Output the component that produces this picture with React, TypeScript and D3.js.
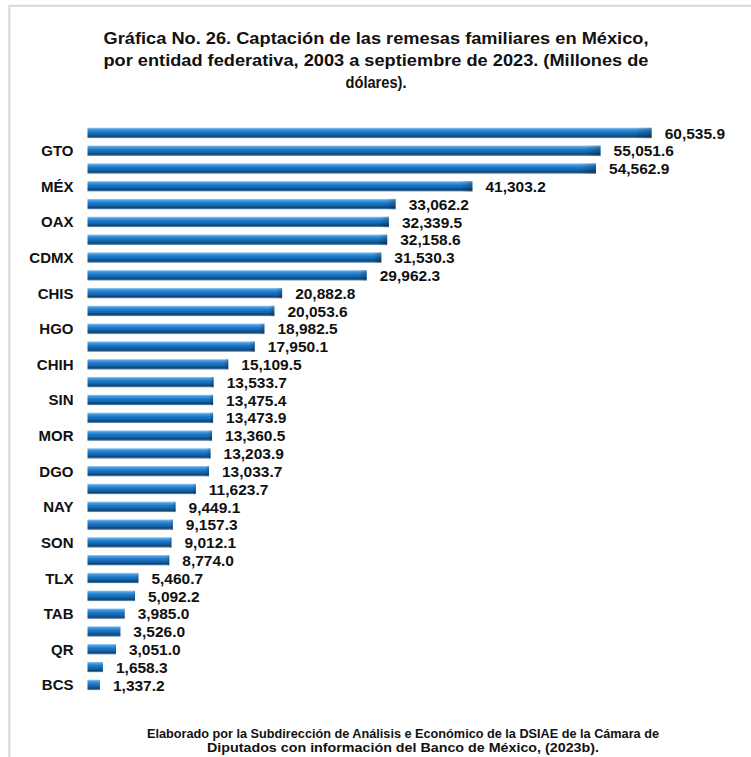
import React from "react";
import * as d3 from "d3";

const categories = ["", "GTO", "", "MÉX", "", "OAX", "", "CDMX", "", "CHIS", "", "HGO", "", "CHIH", "", "SIN", "", "MOR", "", "DGO", "", "NAY", "", "SON", "", "TLX", "", "TAB", "", "QR", "", "BCS"];
const values = [60535.9, 55051.6, 54562.9, 41303.2, 33062.2, 32339.5, 32158.6, 31530.3, 29962.3, 20882.8, 20053.6, 18982.5, 17950.1, 15109.5, 13533.7, 13475.4, 13473.9, 13360.5, 13203.9, 13033.7, 11623.7, 9449.1, 9157.3, 9012.1, 8774.0, 5460.7, 5092.2, 3985.0, 3526.0, 3051.0, 1658.3, 1337.2];
const titleLines = [
  "Gráfica No. 26. Captación de las remesas familiares en México,",
  "por entidad federativa, 2003 a septiembre de 2023. (Millones de",
  "dólares).",
];
const footerLines = [
  "Elaborado por la Subdirección de Análisis e Económico de la DSIAE de la Cámara de",
  "Diputados con información del Banco de México, (2023b).",
];

const W = 751;
const H = 757;
const narrow = "'Liberation Sans Narrow', 'Arial Narrow', 'Liberation Sans', Arial, sans-serif";
const sans = "'Liberation Sans', Arial, sans-serif";

export default function App() {
  const idx = values.map((_, i) => i);
  const y = d3.scaleBand<number>().domain(idx).range([124.1, 693.9]).paddingInner(0.4).paddingOuter(0.2);
  const x = d3.scaleLinear().domain([0, 60535.9]).range([87.5, 651.7]);
  const fmt = d3.format(",.1f");
  const titleW = [545, 545, 61];
  const footW = [512, 392];
  return (
    <svg width={W} height={H} style={{ position: "absolute", left: 0, top: 0, background: "#fff" }}>
      <defs>
        <linearGradient id="barg" x1="0" y1="0" x2="0" y2="1">
          <stop offset="0%" stopColor="#a4d0f4" />
          <stop offset="14%" stopColor="#4a9de2" />
          <stop offset="38%" stopColor="#1a7acb" />
          <stop offset="62%" stopColor="#1565a8" />
          <stop offset="82%" stopColor="#0f4474" />
          <stop offset="93%" stopColor="#557fa9" />
          <stop offset="100%" stopColor="#d3e0ee" />
        </linearGradient>
        <linearGradient id="barh" x1="0" y1="0" x2="1" y2="0">
          <stop offset="0%" stopColor="#000" stopOpacity="0" />
          <stop offset="97%" stopColor="#000" stopOpacity="0" />
          <stop offset="100%" stopColor="#000" stopOpacity="0.25" />
        </linearGradient>
      </defs>
      <rect x={0} y={0} width={W} height={H} fill="#fff" />
      <path d={`M9.3,${H} V5.8 H${W}`} fill="none" stroke="#d9d9d9" strokeWidth={2} />
      {titleLines.map((t, i) => (
        <text
          key={i}
          x={376}
          y={43.5 + i * 22}
          textAnchor="middle"
          fontFamily={narrow}
          fontWeight="bold"
          fontSize={16.5}
          fill="#111"
          textLength={titleW[i]}
          lengthAdjust="spacingAndGlyphs"
        >
          {t}
        </text>
      ))}
      {values.map((v, i) => {
        const by = y(i)!;
        const bh = y.bandwidth();
        return (
          <g key={i}>
            <rect x={x(0)} y={by} width={x(v) - x(0)} height={bh} fill="url(#barg)" />
            <rect x={x(0)} y={by} width={x(v) - x(0)} height={bh} fill="url(#barh)" />
            <text
              x={x(v) + 13}
              y={by + bh / 2}
              dy="0.36em"
              fontFamily={sans}
              fontWeight="bold"
              fontSize={15.5}
              fill="#111"
            >
              {fmt(v)}
            </text>
            {categories[i] && (
              <text
                x={73.5}
                y={by + bh / 2}
                dy="0.36em"
                textAnchor="end"
                fontFamily={sans}
                fontWeight="bold"
                fontSize={15}
                fill="#111"
              >
                {categories[i]}
              </text>
            )}
          </g>
        );
      })}
      {footerLines.map((t, i) => (
        <text
          key={i}
          x={403}
          y={738 + i * 14}
          textAnchor="middle"
          fontFamily={narrow}
          fontWeight="bold"
          fontSize={12.5}
          fill="#111"
          textLength={footW[i]}
          lengthAdjust="spacingAndGlyphs"
        >
          {t}
        </text>
      ))}
    </svg>
  );
}
